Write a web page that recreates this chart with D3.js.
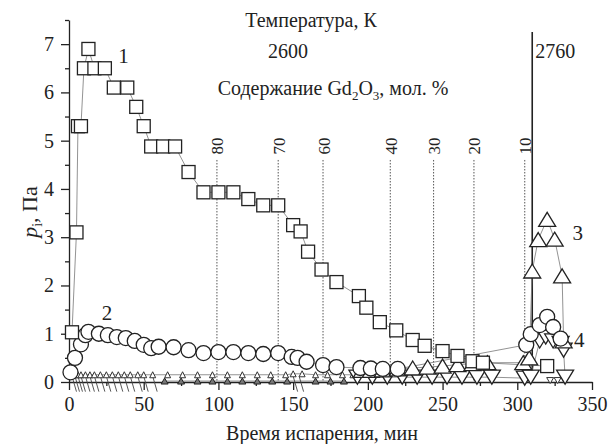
<!DOCTYPE html>
<html>
<head>
<meta charset="utf-8">
<script src="https://cdn.jsdelivr.net/npm/d3@7"></script>
<style>
  body { margin: 0; background: #fff; }
  svg, svg text { font-family: "Times New Roman", "Liberation Serif", "DejaVu Serif", serif !important; }
  svg text { fill: #222; }
</style>
</head>
<body>
<div id="chart"></div>
<script>
// Series 1 - squares
var s1x = [2, 5, 6, 8, 10, 13, 17, 24, 30, 39, 45, 50, 55, 63, 71, 80, 90, 100, 110, 120, 130, 140, 150, 155, 160, 169, 179, 194, 199, 208, 219, 230, 238, 250, 260, 270, 277, 320];
var s1y = [1.03, 3.1, 5.3, 5.3, 6.5, 6.9, 6.5, 6.5, 6.1, 6.1, 5.7, 5.3, 4.88, 4.88, 4.88, 4.35, 3.93, 3.93, 3.93, 3.79, 3.66, 3.66, 3.25, 3.12, 2.7, 2.33, 2.07, 1.78, 1.54, 1.24, 1.07, 0.87, 0.75, 0.64, 0.54, 0.43, 0.4, 0.33];
// Series 2 - circles
var s2x = [1, 4, 8, 11, 13, 20, 26, 32, 38, 44, 50, 55, 60, 70, 80, 90, 100, 110, 120, 130, 140, 149, 153, 159, 170, 179, 195, 202, 210, 220, 306, 309, 315, 320, 324, 329];
var s2y = [0.2, 0.5, 0.78, 0.97, 1.04, 1.0, 0.97, 0.93, 0.91, 0.85, 0.77, 0.7, 0.73, 0.72, 0.66, 0.6, 0.62, 0.62, 0.6, 0.58, 0.6, 0.52, 0.5, 0.42, 0.35, 0.31, 0.29, 0.28, 0.27, 0.27, 0.77, 0.99, 1.18, 1.35, 1.14, 0.9];
// Series 3 - up triangles (large)
var s3x = [196, 202, 210, 220, 230, 240, 250, 260, 270, 280, 304, 308, 310, 314, 320, 325, 330, 331];
var s3y = [0.24, 0.24, 0.25, 0.27, 0.29, 0.31, 0.33, 0.36, 0.38, 0.4, 0.4, 0.5, 2.3, 2.95, 3.37, 2.96, 2.2, 0.85];
// Series 4 - down triangles (large)
var s4x = [193, 203, 213, 223, 233, 243, 253, 263, 273, 283, 305, 309, 315, 319, 324, 329, 331, 332];
var s4y = [0.1, 0.1, 0.1, 0.1, 0.1, 0.1, 0.1, 0.1, 0.1, 0.1, 0.08, 0.1, 0.85, 0.93, 0.85, 0.8, 0.66, 0.1];
// small markers near zero
var sm3x = [2, 4, 6, 8, 11, 14, 17, 21, 25, 29, 33, 37, 41, 46, 50, 56, 66, 76, 86, 96, 106, 116, 126, 135, 145, 150, 156, 165, 173, 183, 190];
var sm3y = [0.15, 0.15, 0.15, 0.15, 0.15, 0.15, 0.15, 0.15, 0.15, 0.15, 0.15, 0.15, 0.15, 0.15, 0.15, 0.15, 0.15, 0.15, 0.15, 0.15, 0.15, 0.15, 0.15, 0.15, 0.15, 0.17, 0.17, 0.15, 0.15, 0.15, 0.15];
var smFx = [64, 75, 86, 96, 106, 116, 126, 136, 146, 165, 175, 184];
var smFy = [0.02, 0.02, 0.02, 0.02, 0.02, 0.02, 0.02, 0.02, 0.02, 0.02, 0.02, 0.02];
var smDx = [322, 327, 332];
var smDy = [0.03, 0.03, 0.03];
var slashX = [2, 4, 6, 8, 11, 14, 17, 21, 25, 29, 33, 37, 41, 46, 50, 56, 150, 154];
// Gd2O3 content marks (mol %) and times
var contentLabels = ["80", "70", "60", "40", "30", "20", "10"];
var contentTimes = [99, 140, 170, 215, 244, 271, 305];
var xTicks = [0, 50, 100, 150, 200, 250, 300, 350];
var yTicks = [0, 1, 2, 3, 4, 5, 6, 7];
var tempSwitch = 310;
var curveNames = ["1", "2", "3", "4"];
var curveLabelX = [33, 22, 337, 338];
var curveLabelY = [6.6, 1.28, 2.94, 0.72];

var width = 609, height = 444;
var serif = "'Times New Roman', 'Liberation Serif', serif";
var svg = d3.select("#chart").append("svg")
    .attr("width", width)
    .attr("height", height)
    .attr("font-family", serif);

var x = d3.scaleLinear().domain([0, 350]).range([69, 592]);
var y = d3.scaleLinear().domain([0, 7.5]).range([382, 20]);

function zip(xs, ys) {
    return xs.map(function (v, i) { return [v, ys[i]]; });
}
function triUp(w, h) { return "M0," + (-h / 2) + "L" + (w / 2) + "," + (h / 2) + "L" + (-w / 2) + "," + (h / 2) + "Z"; }
function triDown(w, h) { return "M0," + (h / 2) + "L" + (w / 2) + "," + (-h / 2) + "L" + (-w / 2) + "," + (-h / 2) + "Z"; }

// dotted content lines
contentTimes.forEach(function (t, i) {
    svg.append("line")
        .attr("x1", x(t)).attr("x2", x(t))
        .attr("y1", y(4.6)).attr("y2", y(0))
        .attr("stroke", "#555").attr("stroke-width", 1)
        .attr("stroke-dasharray", "1.5,1.5");
    svg.append("text")
        .attr("transform", "translate(" + (x(t) + 6.5) + "," + 146 + ") rotate(-90)")
        .attr("text-anchor", "middle")
        .style("font-size", "17px")
        .text(contentLabels[i]);
});

// temperature switch line
svg.append("line")
    .attr("x1", x(tempSwitch)).attr("x2", x(tempSwitch))
    .attr("y1", y(7.25)).attr("y2", y(0))
    .attr("stroke", "#222").attr("stroke-width", 1.6);

// axes
svg.append("g").attr("transform", "translate(0," + y(0) + ")")
    .call(d3.axisBottom(x).tickValues(xTicks).tickSize(8).tickSizeOuter(0).tickPadding(7));
svg.append("g").attr("transform", "translate(0," + y(0) + ")")
    .call(d3.axisBottom(x).tickValues(d3.range(25, 350, 50)).tickSize(4).tickSizeOuter(0).tickFormat(""))
    .select(".domain").remove();
svg.append("g").attr("transform", "translate(" + x(0) + ",0)")
    .call(d3.axisLeft(y).tickValues(yTicks).tickSize(8).tickSizeOuter(0).tickPadding(7));
svg.append("g").attr("transform", "translate(" + x(0) + ",0)")
    .call(d3.axisLeft(y).tickValues(d3.range(0.5, 7.6, 1)).tickSize(4).tickSizeOuter(0).tickFormat(""))
    .select(".domain").remove();
svg.selectAll("g").attr("font-family", serif);
svg.selectAll(".tick text").style("font-size", "20px");
svg.selectAll(".domain, .tick line").attr("stroke", "#222").attr("stroke-width", 1.3);

// connecting lines
var line = d3.line().x(function (d) { return x(d[0]); }).y(function (d) { return y(d[1]); });
[zip(s1x, s1y), zip(s2x, s2y), zip(s3x, s3y), zip(s4x, s4y), zip(sm3x, sm3y), zip(smFx, smFy)].forEach(function (pts) {
    svg.append("path").datum(pts)
        .attr("d", line)
        .attr("fill", "none").attr("stroke", "#777").attr("stroke-width", 0.8);
});
slashX.forEach(function (v) {
    svg.append("line")
        .attr("x1", x(v)).attr("y1", y(0.12))
        .attr("x2", x(v + 3)).attr("y2", y(-0.2))
        .attr("stroke", "#444").attr("stroke-width", 0.9);
});

// small markers
svg.selectAll(".sm3").data(zip(sm3x, sm3y)).enter().append("path")
    .attr("transform", function (d) { return "translate(" + x(d[0]) + "," + y(d[1]) + ")"; })
    .attr("d", triUp(6, 6)).attr("fill", "#fff").attr("stroke", "#333").attr("stroke-width", 1);
svg.selectAll(".smF").data(zip(smFx, smFy)).enter().append("path")
    .attr("transform", function (d) { return "translate(" + x(d[0]) + "," + y(d[1]) + ")"; })
    .attr("d", triUp(7, 6)).attr("fill", "#777").attr("stroke", "#222").attr("stroke-width", 1);
svg.selectAll(".smD").data(zip(smDx, smDy)).enter().append("path")
    .attr("transform", function (d) { return "translate(" + x(d[0]) + "," + y(d[1]) + ")"; })
    .attr("d", triDown(7, 6)).attr("fill", "#fff").attr("stroke", "#333").attr("stroke-width", 1);

// large markers
svg.selectAll(".s4").data(zip(s4x, s4y)).enter().append("path")
    .attr("transform", function (d) { return "translate(" + x(d[0]) + "," + y(d[1]) + ")"; })
    .attr("d", triDown(17, 14)).attr("fill", "#fff").attr("stroke", "#222").attr("stroke-width", 1.3);
svg.selectAll(".s3").data(zip(s3x, s3y)).enter().append("path")
    .attr("transform", function (d) { return "translate(" + x(d[0]) + "," + y(d[1]) + ")"; })
    .attr("d", triUp(17, 14)).attr("fill", "#fff").attr("stroke", "#222").attr("stroke-width", 1.3);
svg.selectAll(".s2").data(zip(s2x, s2y)).enter().append("circle")
    .attr("cx", function (d) { return x(d[0]); })
    .attr("cy", function (d) { return y(d[1]); })
    .attr("r", 7.5).attr("fill", "#fff").attr("stroke", "#222").attr("stroke-width", 1.3);
svg.selectAll(".s1").data(zip(s1x, s1y)).enter().append("rect")
    .attr("x", function (d) { return x(d[0]) - 6.5; })
    .attr("y", function (d) { return y(d[1]) - 6.5; })
    .attr("width", 13).attr("height", 13)
    .attr("fill", "#fff").attr("stroke", "#222").attr("stroke-width", 1.3);

// curve numbers
curveNames.forEach(function (n, i) {
    svg.append("text").attr("x", x(curveLabelX[i])).attr("y", y(curveLabelY[i]))
        .style("font-size", "21px").text(n);
});

// top annotations
svg.append("text").attr("x", 311).attr("y", 27).attr("text-anchor", "middle")
    .style("font-size", "20px").text("Температура, К");
svg.append("text").attr("x", 288).attr("y", 58).attr("text-anchor", "middle")
    .style("font-size", "20px").text("2600");
svg.append("text").attr("x", x(tempSwitch) + 3).attr("y", 58)
    .style("font-size", "20px").text("2760");
var gd = svg.append("text").attr("x", 333).attr("y", 95).attr("text-anchor", "middle")
    .style("font-size", "20px");
gd.append("tspan").text("Содержание Gd");
gd.append("tspan").attr("dy", 5).style("font-size", "13px").text("2");
gd.append("tspan").attr("dy", -5).text("O");
gd.append("tspan").attr("dy", 5).style("font-size", "13px").text("3");
gd.append("tspan").attr("dy", -5).text(", мол. %");

// axis titles
svg.append("text").attr("x", 322).attr("y", 440).attr("text-anchor", "middle")
    .style("font-size", "20px").text("Время испарения, мин");
var yt = svg.append("text").attr("transform", "translate(37,212) rotate(-90)")
    .attr("text-anchor", "middle").style("font-size", "22px");
yt.append("tspan").style("font-style", "italic").text("p");
yt.append("tspan").attr("dy", 5).style("font-size", "14px").text("i");
yt.append("tspan").attr("dy", -5).text(", Па");
</script>
</body>
</html>
